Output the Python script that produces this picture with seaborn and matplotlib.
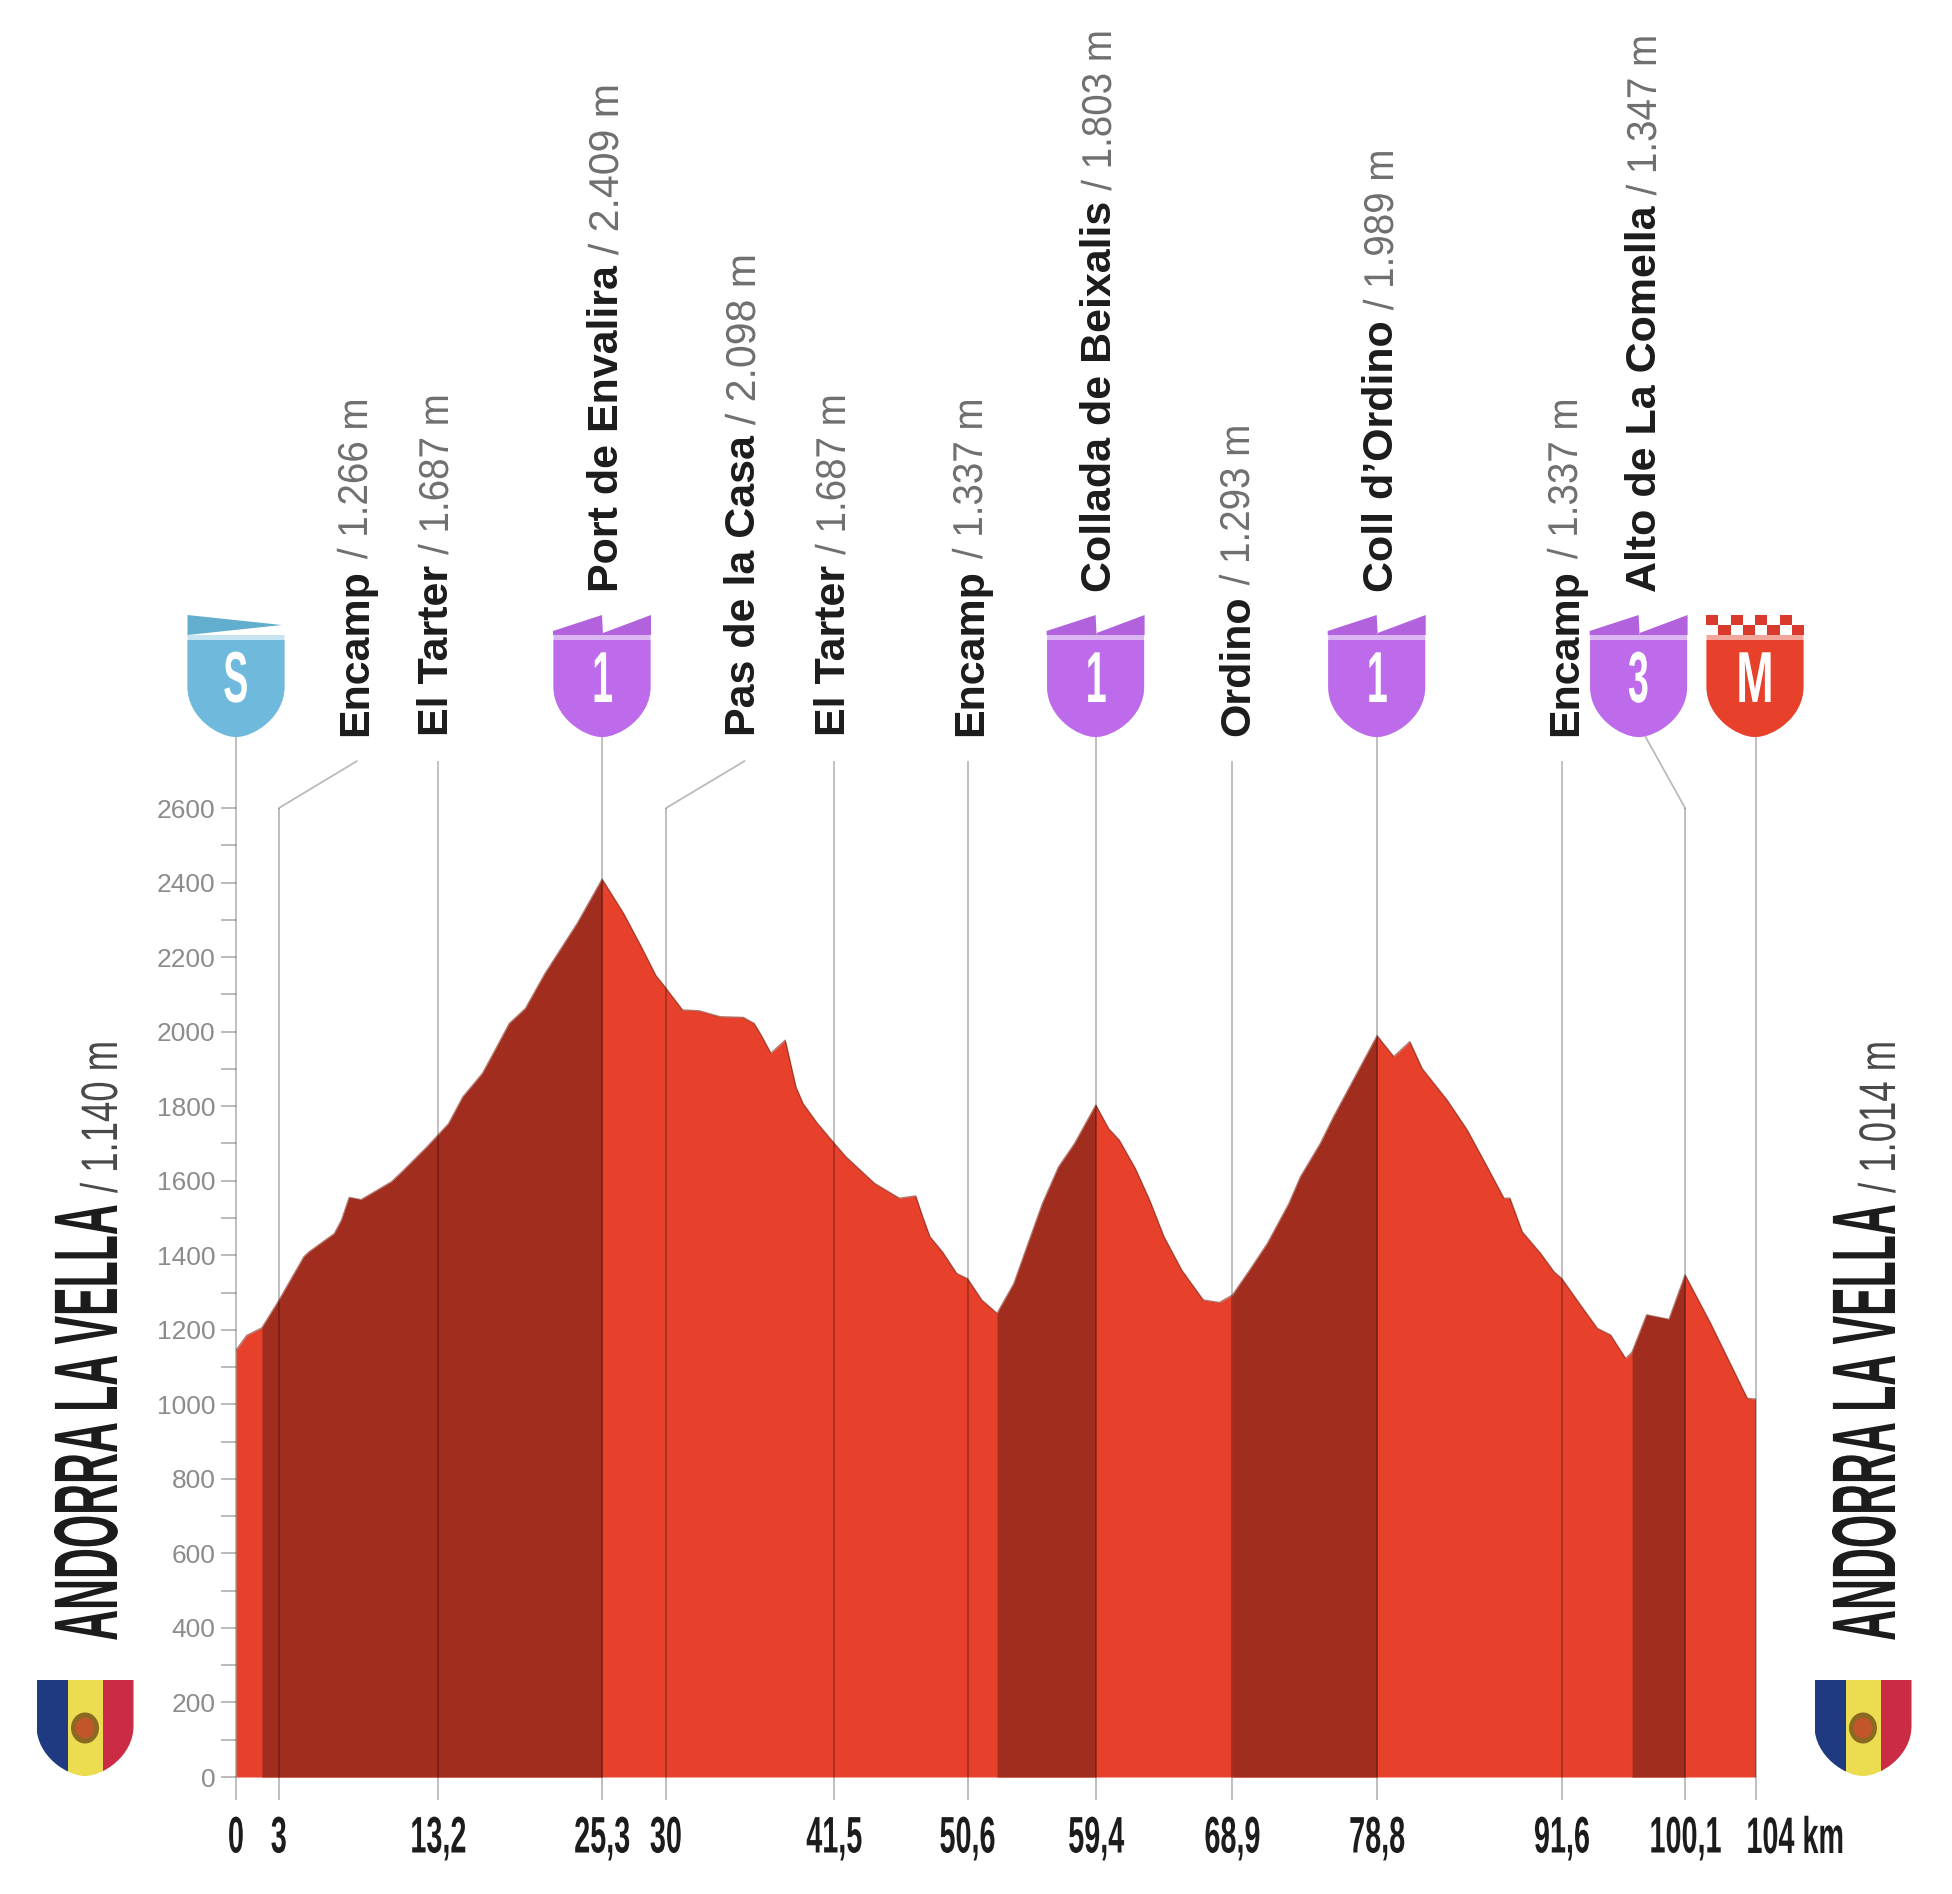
import numpy as np
import matplotlib
matplotlib.use('Agg')
import matplotlib.pyplot as plt
import matplotlib.patheffects as pe
from matplotlib.patches import PathPatch, Polygon, Rectangle, Ellipse
from matplotlib.path import Path
from matplotlib.transforms import Affine2D
from matplotlib.ticker import MultipleLocator
import seaborn as sns

# profile
km = [0, 0.74, 1.77, 2.94, 4.65, 5.0, 6.73, 7.22, 7.75, 8.56, 10.64, 11.37, 13.08, 14.55, 15.53,
      16.87, 17.73, 18.71, 19.81, 21.15, 23.35, 25.06, 26.53, 27.75, 28.73, 29.44, 30.56, 31.67,
      33.13, 34.72, 35.46, 35.95, 36.61, 37.59, 38.32, 38.81, 39.79, 40.95, 41.75, 43.7, 45.4,
      46.52, 47.0, 47.49, 48.35, 49.33, 50.07, 51.04, 52.09, 53.24, 54.22, 55.2, 56.3, 57.4,
      58.85, 59.72, 60.45, 61.55, 62.53, 63.51, 64.73, 66.2, 67.3, 68.2, 69.38, 70.6, 72.07,
      72.85, 74.22, 75.13, 78.1, 79.24, 80.34, 81.18, 82.9, 84.27, 85.64, 86.78, 87.19, 88.03,
      89.29, 90.2, 90.75, 92.03, 93.17, 94.08, 95.11, 95.55, 96.55, 98.08, 99.18, 100.93, 103.44, 104]
elev = [1145, 1185, 1205, 1279, 1396, 1409, 1458, 1494, 1555, 1549, 1597, 1624, 1691, 1753, 1825,
        1888, 1950, 2022, 2062, 2156, 2290, 2409, 2317, 2227, 2151, 2116, 2058, 2056,
        2040, 2038, 2022, 1990, 1942, 1977, 1852, 1807, 1754, 1700, 1664, 1593, 1553,
        1559, 1503, 1450, 1409, 1351, 1337, 1280, 1244, 1324, 1432, 1539, 1637, 1700,
        1803, 1740, 1709, 1633, 1548, 1450, 1360, 1280, 1273, 1293, 1360, 1432, 1539,
        1610, 1700, 1772, 1989, 1933, 1973, 1901, 1816, 1736, 1637, 1553, 1553, 1463,
        1405, 1356, 1337, 1266, 1204, 1186, 1123, 1140, 1240, 1228, 1347, 1217, 1016, 1014]

climb_start = [1.77, 52.09, 68.2, 95.55]
climb_end = [25.06, 58.85, 78.1, 99.18]

# ticks sit where the picture has them, the printed km are not to scale
tick_km = [0, 2.94, 13.83, 25.06, 29.44, 40.95, 50.07, 58.85, 68.2, 78.1, 90.75, 99.18, 104]
tick_labels = ['0', '3', '13,2', '25,3', '30', '41,5', '50,6', '59,4', '68,9', '78,8', '91,6', '100,1', '']
guide_top = [2791, 2600, 2726, 2791, 2600, 2726, 2726, 2791, 2726, 2791, 2726, 2600, 2791]

stop_names = ['Encamp', 'El Tarter', 'Port de Envalira', 'Pas de la Casa', 'El Tarter', 'Encamp',
              'Collada de Beixalis', 'Ordino', 'Coll d’Ordino', 'Encamp', 'Alto de La Comella']
stop_heights = ['/ 1.266 m', '/ 1.687 m', '/ 2.409 m', '/ 2.098 m', '/ 1.687 m', '/ 1.337 m',
                '/ 1.803 m', '/ 1.293 m', '/ 1.989 m', '/ 1.337 m', '/ 1.347 m']
stop_x = [367, 448, 618, 755, 845, 982, 1111, 1249, 1393, 1577, 1656]
stop_y = [736, 736, 592, 736, 736, 736, 592, 736, 592, 736, 592]

RED = '#e8412b'
DARK = '#a12d1f'
GREY = '#8c8c8c'
INK = '#1c1c1c'


class Squeeze(pe.AbstractPathEffect):
    # narrows the glyphs along the text direction, no condensed font installed
    def __init__(self, sx, anchor=0.0):
        super().__init__()
        self.sx = sx
        self.anchor = anchor

    def draw_path(self, renderer, gc, tpath, affine, rgbFace=None):
        box = tpath.get_extents()
        x0 = box.x0 + self.anchor * box.width
        squeezed = Affine2D().translate(-x0, 0).scale(self.sx, 1).translate(x0, 0) + affine
        renderer.draw_path(gc, tpath, squeezed, rgbFace)


sns.set_theme(style='white')
plt.rcParams['font.family'] = ['Liberation Sans', 'DejaVu Sans']

W, H = 1952, 1894
fig = plt.figure(figsize=(W / 100, H / 100), dpi=100)
fig.patch.set_facecolor('white')

# -----------------------------
# profile axes
# -----------------------------
ax = fig.add_axes([236 / W, (H - 1777) / H, 1519.5 / W, 969 / H])
ax.patch.set_alpha(0)
km_arr = np.array(km)
elev_arr = np.array(elev)
ax.fill_between(km_arr, 0, elev_arr, color=RED, lw=0)
for a, b in zip(climb_start, climb_end):
    ax.fill_between(km_arr, 0, elev_arr, where=(km_arr >= a) & (km_arr <= b), color=DARK, lw=0)
sns.lineplot(x=km, y=elev, ax=ax, color='#7d2416', lw=1.0, alpha=0.6, estimator=None, sort=False)

ax.vlines(tick_km, -62, guide_top, color='black', alpha=0.27, lw=1.3, clip_on=False)

# the three climbs whose label is offset from the km mark
ax.plot([2.94, 8.28], [2600, 2726], color='black', alpha=0.27, lw=1.3, clip_on=False)
ax.plot([29.44, 34.81], [2600, 2726], color='black', alpha=0.27, lw=1.3, clip_on=False)
ax.plot([99.18, 96.47], [2600, 2791], color='black', alpha=0.27, lw=1.3, clip_on=False)

ax.set_xlim(0, 104)
ax.set_ylim(0, 2600)
sns.despine(ax=ax, left=True, bottom=True)
ax.set_xticks(tick_km)
ax.set_xticklabels(tick_labels, fontweight='bold')
ax.yaxis.set_major_locator(MultipleLocator(200))
ax.yaxis.set_minor_locator(MultipleLocator(100))
ax.tick_params(axis='x', length=0, pad=27, labelsize=37, labelcolor=INK)
ax.tick_params(axis='y', which='both', left=True, length=10.8, width=1.1, color='#a8a8a8',
               labelsize=19, labelcolor=GREY, pad=4)
for lab in ax.get_xticklabels():
    lab.set_path_effects([Squeeze(0.56, 0.5)])

# -----------------------------
# overlay in pixels for shields and labels
# -----------------------------
ov = fig.add_axes([0, 0, 1, 1])
ov.set_xlim(0, W)
ov.set_ylim(H, 0)
ov.axis('off')


def shield_path(cx, top, bottom, half=48.5):
    curve = bottom - 50
    verts = [(cx - half, top), (cx + half, top), (cx + half, curve),
             (cx + half, bottom - 20), (cx + 18, bottom), (cx, bottom),
             (cx - 18, bottom), (cx - half, bottom - 20), (cx - half, curve), (cx - half, top)]
    codes = [Path.MOVETO, Path.LINETO, Path.LINETO, Path.CURVE4, Path.CURVE4, Path.CURVE4,
             Path.CURVE4, Path.CURVE4, Path.CURVE4, Path.CLOSEPOLY]
    return Path(verts, codes)


def shield(cx, color, light, letter, sx=0.52):
    ov.add_patch(PathPatch(shield_path(cx, 635, 737), fc=light, ec='none'))
    ov.add_patch(PathPatch(shield_path(cx, 640, 737), fc=color, ec='none'))
    ov.text(cx, 683, letter, color='white', fontsize=52, fontweight='bold', ha='center', va='center',
            path_effects=[Squeeze(sx, 0.5)])


def climb_badge(cx, letter):
    shield(cx, '#bd6bea', '#dcb6f2', letter)
    ov.add_patch(Polygon([(cx - 49, 635), (cx - 49, 631), (cx, 615), (cx + 1, 635)], fc='#b262dc', ec='none'))
    ov.add_patch(Polygon([(cx + 1, 633), (cx + 49, 615), (cx + 49, 635), (cx + 1, 635)], fc='#b262dc', ec='none'))


shield(236, '#6fb9dd', '#c6e4f2', 'S')
ov.add_patch(Polygon([(187.5, 615), (282, 625), (187.5, 635)], fc='#62aecf', ec='none'))
climb_badge(602, '1')
climb_badge(1095.6, '1')
climb_badge(1376.7, '1')
climb_badge(1638.6, '3')
shield(1755, RED, '#f3a79b', 'M', sx=0.62)
for i in range(8):
    top = 615 if i % 2 == 0 else 625
    ov.add_patch(Rectangle((1706 + i * 12.25, top), 12.25, 10, fc='#d93a2b', ec='none'))


def flag(cx):
    clip = PathPatch(shield_path(cx, 1680, 1776), fc='none', ec='none')
    ov.add_patch(clip)
    for x0, w, c in [(-48.5, 31, '#1f3a80'), (-17.5, 35, '#ecdc50'), (17.5, 31, '#cc2b45')]:
        ov.add_patch(Rectangle((cx + x0, 1680), w, 96, fc=c, ec='none', clip_path=clip))
    ov.add_patch(Ellipse((cx, 1728), 28, 31, fc='#8a6a20', ec='none'))
    ov.add_patch(Ellipse((cx, 1728), 19, 21, fc='#c0562a', ec='none'))


flag(85)
flag(1863)

renderer = fig.canvas.get_renderer()

# climb and town labels, rotated, name then height
for name, height, x, y in zip(stop_names, stop_heights, stop_x, stop_y):
    t = ov.text(x, y, name, rotation=90, rotation_mode='anchor', ha='left', va='baseline',
                fontsize=31, fontweight='bold', color=INK)
    length = t.get_window_extent(renderer).height
    # the reference's 1 is a narrow figure, those labels run shorter
    sx = 0.925 if height.startswith('/ 1') else 0.985
    ov.text(x, y - length - 10, height, rotation=90, rotation_mode='anchor', ha='left', va='baseline',
            fontsize=30, color='#707070', path_effects=[Squeeze(sx)])

# start and finish
for x, height in [(117, '/ 1.140 m'), (1895, '/ 1.014 m')]:
    ov.text(x, 1642, 'ANDORRA LA VELLA', rotation=90, rotation_mode='anchor', ha='left', va='baseline',
            fontsize=65, fontweight='bold', color=INK, path_effects=[Squeeze(0.474)])
    ov.text(x, 1193, height, rotation=90, rotation_mode='anchor', ha='left', va='baseline',
            fontsize=37, color='#4a4a4a', path_effects=[Squeeze(0.71)])

ov.text(1745, 1853, '104 km', ha='left', va='baseline', fontsize=37, fontweight='bold', color=INK,
        path_effects=[Squeeze(0.56)])

fig.savefig('out.png', dpi=100, facecolor='white')
